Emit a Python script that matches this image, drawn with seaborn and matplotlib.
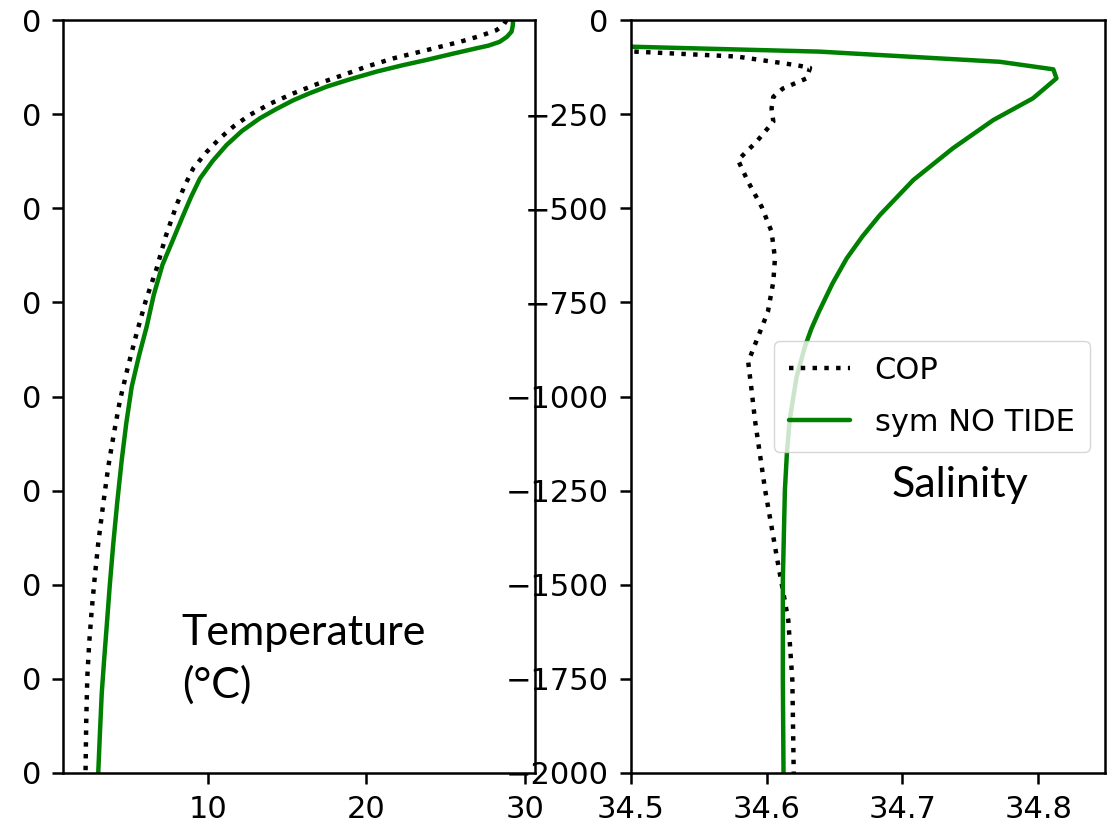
import matplotlib
matplotlib.use("Agg")
import matplotlib.pyplot as plt
import seaborn as sns

# ---------------- data ----------------
# Temperature profiles (depth in m, positive downward)
depth_T_cop = [0, 13, 27, 42, 58, 80, 102, 124, 146, 170, 195, 222, 252, 282,
               314, 352, 394, 440, 491, 575, 660, 745, 832, 920, 1010, 1100,
               1187, 1290, 1390, 1480, 1567, 1655, 1745, 1870, 2000]
temp_cop = [28.84, 28.65, 28.2, 27.2, 25.9, 23.8, 21.69, 20.0, 18.54, 16.9,
            15.39, 13.95, 12.66, 11.65, 10.77, 9.9, 9.09, 8.55, 8.04, 7.35,
            6.78, 6.1, 5.52, 4.98, 4.47, 4.08, 3.73, 3.4, 3.10, 2.88, 2.69,
            2.53, 2.41, 2.34, 2.30]

depth_T_sym = [0, 15, 31, 45, 58, 68, 75, 90, 106, 120, 137, 157, 177, 195,
               213, 237, 261, 295, 332, 375, 421, 470, 518, 590, 650, 730,
               815, 895, 974, 1070, 1169, 1280, 1390, 1500, 1612, 1700, 1789,
               1900, 2000]
temp_sym = [29.25, 29.23, 29.15, 28.85, 28.4, 27.7, 26.95, 25.4, 23.8, 22.3,
            20.65, 19.0, 17.5, 16.4, 15.4, 14.3, 13.29, 12.15, 11.19, 10.3,
            9.51, 8.95, 8.46, 7.75, 7.15, 6.6, 6.15, 5.65, 5.21, 4.87, 4.58,
            4.3, 4.05, 3.83, 3.63, 3.47, 3.32, 3.2, 3.10]

# Salinity profiles
depth_S_cop = [0, 84, 97, 120, 127, 155, 182, 204, 235, 270, 323, 372, 430,
               496, 562, 633, 695, 775, 908, 983, 1063, 1249, 1435, 1594,
               1754, 2000]
sal_cop = [34.0, 34.5032, 34.578, 34.622, 34.632, 34.6295, 34.612, 34.605,
           34.6037, 34.605, 34.5927, 34.579, 34.5865, 34.5964, 34.6037,
           34.6062, 34.605, 34.601, 34.5865, 34.589, 34.5915, 34.599, 34.608,
           34.616, 34.619, 34.620]

depth_S_sym = [0, 84, 111, 131, 155, 208, 266, 341, 425, 518, 575, 633, 700,
               775, 820, 870, 950, 1063, 1150, 1249, 1488, 1754, 2000]
sal_sym = [33.75, 34.639, 34.7716, 34.811, 34.8133, 34.796, 34.7667, 34.737,
           34.708, 34.6834, 34.6705, 34.659, 34.6485, 34.6385, 34.633,
           34.628, 34.622, 34.617, 34.615, 34.6135, 34.612, 34.612, 34.6125]

series_labels = ["COP", "sym NO TIDE"]
depth_ticks = [0, -250, -500, -750, -1000, -1250, -1500, -1750, -2000]
left_depth_ticklabels = ["0", "0", "0", "0", "0", "0", "0", "0", "0"]
temp_ticks = [10, 20, 30]
sal_ticks = [34.5, 34.6, 34.7, 34.8]

# ---------------- style ----------------
sns.set_theme(style="ticks", rc={
    "axes.edgecolor": "black",
    "axes.linewidth": 1.8,
    "xtick.color": "black",
    "ytick.color": "black",
    "text.color": "black",
    "xtick.major.size": 8,
    "ytick.major.size": 8,
    "xtick.major.width": 1.8,
    "ytick.major.width": 1.8,
    "xtick.major.pad": 7.7,
    "ytick.major.pad": 7.7,
    "xtick.labelsize": 22,
    "ytick.labelsize": 22,
    "font.size": 22,
    "legend.fontsize": 22,
})
plt.rcParams["font.family"] = ["DejaVu Sans"]

W, H = 1109, 827
fig = plt.figure(figsize=(W / 100, H / 100), dpi=100)
ax1 = fig.add_axes([62.7 / W, 54 / H, 472.3 / W, 753 / H])
ax2 = fig.add_axes([630.6 / W, 54 / H, 474.4 / W, 753 / H])

lw = 3.2

# Temperature panel
sns.lineplot(x=temp_cop, y=[-d for d in depth_T_cop], ax=ax1, sort=False,
             estimator=None, color="black", linestyle=":", linewidth=lw)
sns.lineplot(x=temp_sym, y=[-d for d in depth_T_sym], ax=ax1, sort=False,
             estimator=None, color="green", linestyle="-", linewidth=lw)
ax1.set_xlim(0.86, 30.63)
ax1.set_ylim(-2000, 0)
ax1.set_xticks(temp_ticks)
ax1.set_yticks(depth_ticks)
ax1.set_yticklabels(left_depth_ticklabels)
ax1.text(8.36, -1579, "Temperature\n(°C)", fontsize=31, family="Lato",
         ha="left", va="top", linespacing=1.38)

# Salinity panel
sns.lineplot(x=sal_cop, y=[-d for d in depth_S_cop], ax=ax2, sort=False,
             estimator=None, color="black", linestyle=":", linewidth=lw,
             label=series_labels[0])
sns.lineplot(x=sal_sym, y=[-d for d in depth_S_sym], ax=ax2, sort=False,
             estimator=None, color="green", linestyle="-", linewidth=lw,
             label=series_labels[1])
ax2.set_xlim(34.5, 34.849)
ax2.set_ylim(-2000, 0)
ax2.set_xticks(sal_ticks)
ax2.set_yticks(depth_ticks)
ax2.text(34.692, -1267, "Salinity", fontsize=31, family="Lato",
         ha="left", va="baseline")
ax2.legend(loc="center right", fontsize=22, framealpha=0.8, edgecolor="0.8",
           fancybox=True, labelspacing=0.75, borderpad=0.5)

for ax in (ax1, ax2):
    ax.set_xlabel("")
    ax.set_ylabel("")

fig.savefig("out.png", dpi=100)
